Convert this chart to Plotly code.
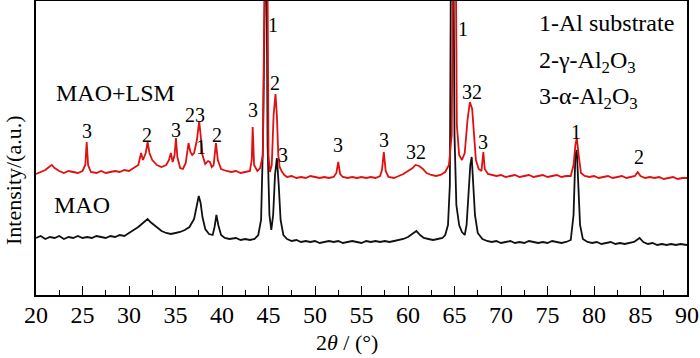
import plotly.graph_objects as go

# ---------------- data (2theta in degrees, intensity in arbitrary units) ----------------
mao_2theta = [20.0, 20.5, 21.0, 21.5, 22.0, 22.5, 23.0, 23.5, 24.0, 24.5, 25.0, 25.5, 26.0, 26.5, 27.0, 27.5,
              28.0, 28.5, 29.0, 29.5, 30.0, 30.5, 31.0, 31.5, 32.0, 32.3, 32.7, 33.0, 33.5, 34.0, 34.5, 35.0,
              35.5, 36.0, 36.5, 37.0, 37.3, 37.5, 37.7, 37.9, 38.2, 38.6, 39.0, 39.2, 39.4, 39.6, 39.9, 40.3,
              40.8, 41.5, 42.0, 42.5, 43.0, 43.5, 43.9, 44.2, 44.4, 44.55, 44.75, 44.9, 45.1, 45.3, 45.5, 45.7,
              45.9, 46.1, 46.3, 46.6, 47.0, 47.5, 48.0, 48.5, 49.0, 49.5, 50.0, 50.5, 51.0, 51.5, 52.0, 52.5,
              53.0, 53.5, 54.0, 54.5, 55.0, 55.5, 56.0, 56.5, 57.0, 57.5, 58.0, 58.5, 59.0, 59.5, 60.0, 60.5,
              60.9, 61.3, 61.7, 62.2, 62.7, 63.2, 63.7, 64.0, 64.3, 64.5, 64.65, 64.85, 65.0, 65.2, 65.5, 65.8,
              66.1, 66.3, 66.5, 66.7, 66.85, 67.0, 67.2, 67.5, 68.0, 68.5, 69.0, 69.5, 70.0, 70.5, 71.0, 71.5,
              72.0, 72.5, 73.0, 73.5, 74.0, 74.5, 75.0, 75.5, 76.0, 76.5, 77.0, 77.5, 77.8, 78.0, 78.15, 78.3,
              78.5, 78.8, 79.3, 79.8, 80.3, 80.8, 81.3, 81.8, 82.3, 82.8, 83.3, 83.8, 84.3, 84.6, 84.9, 85.3,
              85.8, 86.3, 86.8, 87.3, 87.8, 88.3, 88.8, 89.3, 90.0]
mao_intensity = [57, 59, 56, 58, 57, 59, 56, 58, 57, 59, 57, 58, 57, 59, 58, 57,
                 59, 58, 60, 59, 62, 65, 68, 72, 76, 73, 70, 67, 64, 62, 61, 62,
                 63, 65, 68, 76, 88, 99, 92, 78, 66, 61, 60, 68, 80, 70, 60, 57,
                 56, 57, 55, 56, 55, 56, 60, 75, 150, 400, 400, 150, 80, 65, 80, 120,
                 137, 110, 75, 60, 56, 54, 55, 53, 54, 53, 54, 52, 53, 54, 53, 54,
                 52, 53, 54, 53, 52, 54, 53, 54, 53, 54, 53, 54, 55, 56, 58, 61,
                 64, 60, 57, 56, 55, 56, 57, 60, 70, 110, 400, 400, 160, 90, 70, 63,
                 60, 70, 100, 130, 138, 115, 80, 62, 56, 54, 53, 54, 52, 53, 54, 52,
                 53, 52, 54, 53, 52, 53, 52, 54, 53, 52, 53, 55, 80, 140, 145, 110,
                 70, 56, 53, 52, 53, 51, 52, 53, 51, 52, 51, 52, 53, 55, 57, 53,
                 51, 52, 50, 51, 50, 51, 50, 51, 50]

lsm_2theta = [20.0, 20.5, 21.0, 21.4, 21.7, 22.0, 22.5, 23.0, 23.5, 24.0, 24.5, 25.0, 25.3, 25.45, 25.6, 25.9,
              26.5, 27.0, 27.5, 28.0, 28.5, 29.0, 29.5, 30.0, 30.5, 31.0, 31.3, 31.5, 31.8, 32.0, 32.2, 32.5,
              33.0, 33.5, 34.0, 34.3, 34.5, 34.7, 34.9, 35.05, 35.2, 35.5, 35.8, 36.1, 36.4, 36.6, 36.8, 37.0,
              37.3, 37.55, 37.7, 37.9, 38.2, 38.5, 38.7, 38.9, 39.1, 39.35, 39.55, 39.9, 40.5, 41.0, 41.5, 42.0,
              42.5, 43.0, 43.2, 43.3, 43.45, 43.8, 44.1, 44.4, 44.65, 44.85, 45.0, 45.15, 45.35, 45.55, 45.75, 45.9,
              46.05, 46.2, 46.4, 46.7, 47.0, 47.5, 48.0, 48.5, 49.0, 49.5, 50.0, 50.5, 51.0, 51.5, 52.0, 52.3,
              52.5, 52.7, 53.0, 53.5, 54.0, 54.5, 55.0, 55.5, 56.0, 56.5, 57.0, 57.2, 57.4, 57.6, 57.9, 58.5,
              59.0, 59.5, 60.0, 60.5, 60.8, 61.2, 61.6, 62.0, 62.5, 63.0, 63.5, 64.0, 64.4, 64.7, 64.9, 65.1,
              65.25, 65.5, 65.8, 66.1, 66.4, 66.65, 66.9, 67.1, 67.3, 67.6, 67.9, 68.1, 68.25, 68.6, 69.0, 69.5,
              70.0, 70.5, 71.0, 71.5, 72.0, 72.5, 73.0, 73.5, 74.0, 74.5, 75.0, 75.5, 76.0, 76.5, 77.0, 77.5,
              77.8, 78.0, 78.15, 78.35, 78.6, 79.0, 79.5, 80.0, 80.5, 81.0, 81.5, 82.0, 82.5, 83.0, 83.5, 84.0,
              84.4, 84.7, 85.0, 85.5, 86.0, 86.5, 87.0, 87.5, 88.0, 88.5, 89.0, 89.5, 90.0]
lsm_intensity = [121, 123, 125, 128, 130, 127, 124, 122, 124, 123, 122, 124, 130, 153, 130, 123,
                 122, 124, 122, 123, 124, 123, 125, 124, 127, 130, 142, 135, 142, 153, 142, 135,
                 130, 128, 130, 135, 142, 133, 140, 157, 138, 127, 126, 132, 152, 143, 140, 142,
                 155, 174, 160, 140, 131, 134, 133, 128, 130, 152, 135, 126, 124, 123, 124, 122,
                 123, 124, 135, 168, 130, 124, 127, 140, 400, 400, 140, 123, 130, 180, 201, 180,
                 140, 128, 124, 120, 118, 119, 117, 118, 117, 119, 118, 117, 118, 117, 118, 122,
                 133, 121, 118, 117, 118, 117, 118, 117, 118, 117, 119, 125, 143, 124, 118, 117,
                 119, 121, 124, 127, 130, 129, 126, 122, 120, 119, 120, 123, 130, 160, 400, 400,
                 170, 140, 135, 142, 175, 193, 186, 160, 135, 126, 124, 143, 126, 121, 120, 119,
                 120, 118, 119, 120, 118, 119, 120, 118, 119, 120, 118, 119, 120, 118, 119, 119,
                 130, 150, 157, 140, 122, 119, 118, 119, 117, 118, 119, 117, 118, 119, 117, 118,
                 119, 123, 119, 117, 118, 117, 118, 116, 117, 118, 116, 117, 117]

# peak labels: (2theta, height, label)
label_2theta = [25.5, 31.9, 35.1, 37.1, 37.7, 39.5, 43.3, 45.5, 45.7, 46.6, 52.5,
                57.4, 60.9, 65.9, 66.9, 68.1, 78.1, 84.8]
label_height = [164, 160, 165, 180, 148, 160, 185, 270, 212, 140, 150,
                155, 143, 266, 203, 153, 163, 138]
label_text = ["3", "2", "3", "23", "1", "2", "3", "1", "2", "3", "3",
              "3", "32", "1", "32", "3", "1", "2"]

sample_names = ["MAO+LSM", "MAO"]
phase_legend = ["1-Al substrate", "2-γ-Al<sub>2</sub>O<sub>3</sub>", "3-α-Al<sub>2</sub>O<sub>3</sub>"]
x_ticks = [20, 25, 30, 35, 40, 45, 50, 55, 60, 65, 70, 75, 80, 85, 90]

FONT = "Liberation Serif, Times New Roman, serif"
W, H = 700, 358
L, R, T, B = 36, 687, 1, 295   # plot area in pixels


def px_x(px):   # pixel -> paper (plot-area relative) x
    return (px - L) / (R - L)


def px_y(py):   # pixel -> paper (plot-area relative) y
    return (B - py) / (B - T)


fig = go.Figure()
fig.add_trace(go.Scatter(x=mao_2theta, y=mao_intensity, mode="lines",
                         line=dict(color="#111111", width=1.8), name=sample_names[1]))
fig.add_trace(go.Scatter(x=lsm_2theta, y=lsm_intensity, mode="lines",
                         line=dict(color="#e01010", width=1.8), name=sample_names[0]))

for xv, yv, t in zip(label_2theta, label_height, label_text):
    fig.add_annotation(x=xv, y=yv, text=t, showarrow=False,
                       font=dict(family=FONT, size=20, color="black"),
                       xanchor="center", yanchor="middle")

# sample names
for name, (cx, cy) in zip(sample_names, [(115, 93), (82, 205)]):
    fig.add_annotation(x=px_x(cx), y=px_y(cy), xref="paper", yref="paper", text=name,
                       showarrow=False, xanchor="center", yanchor="middle",
                       font=dict(family=FONT, size=24, color="black"))

# phase legend
for txt, py in zip(phase_legend, [23, 62, 98]):
    fig.add_annotation(x=px_x(537), y=px_y(py), xref="paper", yref="paper", text=txt,
                       showarrow=False, xanchor="left", yanchor="middle",
                       font=dict(family=FONT, size=24, color="black"))

# axis titles
fig.add_annotation(x=px_x(347), y=px_y(342), xref="paper", yref="paper",
                   text="2<i>θ</i> / (°)", showarrow=False, xanchor="center", yanchor="middle",
                   font=dict(family=FONT, size=22, color="black"))
fig.add_annotation(x=px_x(13), y=px_y(180), xref="paper", yref="paper",
                   text="Intensity/(a.u.)", textangle=-90, showarrow=False,
                   xanchor="center", yanchor="middle",
                   font=dict(family=FONT, size=22, color="black"))

fig.update_layout(
    width=W, height=H,
    margin=dict(l=L, r=W - R, t=T, b=H - B, autoexpand=False),
    paper_bgcolor="white", plot_bgcolor="white",
    showlegend=False,
    font=dict(family=FONT, color="black"),
    xaxis=dict(range=[20, 90], tickvals=x_ticks, ticktext=[str(v) for v in x_ticks],
               ticks="inside", ticklen=9, tickwidth=1.3, tickcolor="black",
               minor=dict(ticks="inside", dtick=2.5, tick0=20, ticklen=5, tickwidth=1.3, tickcolor="black"),
               showline=True, linecolor="black", linewidth=1.5, mirror=True,
               showgrid=False, zeroline=False, automargin=False, ticklabelstandoff=-3,
               tickfont=dict(family=FONT, size=24, color="black")),
    yaxis=dict(range=[0, 294], showticklabels=False, ticks="",
               showline=True, linecolor="black", linewidth=1.5, mirror=True,
               showgrid=False, zeroline=False, automargin=False),
)

fig.write_html("out.html", config={"displayModeBar": False},
               post_script="document.body.style.margin='0';document.body.style.overflow='hidden';")
